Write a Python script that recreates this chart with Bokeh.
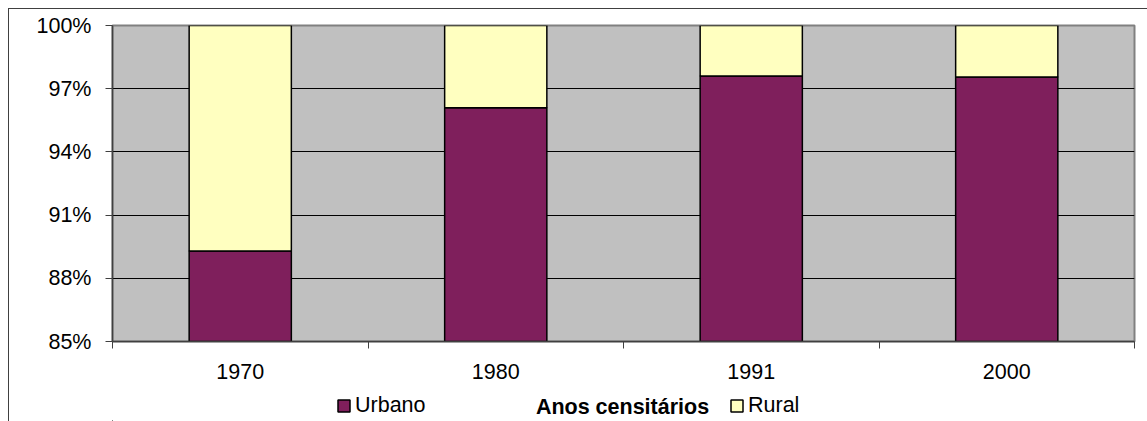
from bokeh.plotting import figure
from bokeh.layouts import column
from bokeh.models import (Range1d, FixedTicker, PrintfTickFormatter, Legend,
                          LegendItem, ColumnDataSource, Label)
from bokeh.embed import file_html
from bokeh.resources import INLINE

# ---- data ----
anos = ["1970", "1980", "1991", "2000"]
urbano = [89.3, 96.1, 97.6, 97.55]
rural = [round(100 - u, 2) for u in urbano]
y_ticks = [85, 88, 91, 94, 97, 100]
series = ["Urbano", "Rural"]
x_title = "Anos censitários"

FONT = "Liberation Sans"
FS = "21.5px"
PURPLE = "#7F1F5C"
YELLOW = "#FFFFC0"
W = 1139

x_pos = [i + 0.5 for i in range(len(anos))]
src = ColumnDataSource(dict(x=x_pos, Urbano=urbano, Rural=rural))

p = figure(width=W, height=382, output_backend="svg", toolbar_location=None,
           x_range=Range1d(0, len(anos)), y_range=Range1d(85, 100),
           min_border_left=103, min_border_right=14, min_border_top=16,
           min_border_bottom=50)

p.background_fill_color = "#C0C0C0"
p.border_fill_color = "white"
p.outline_line_color = "#808080"
p.outline_line_width = 2

rs = p.vbar_stack(series, x="x", width=0.4, source=src,
                  fill_color=[PURPLE, YELLOW], line_color="black", line_width=1.5)

# y axis
p.yaxis.ticker = FixedTicker(ticks=y_ticks)
p.yaxis.formatter = PrintfTickFormatter(format="%d%%")
p.yaxis.major_tick_out = 7
p.yaxis.major_tick_in = 0
p.yaxis.minor_tick_out = 0
p.yaxis.minor_tick_in = 0
p.yaxis.major_label_standoff = 14
p.yaxis.axis_line_color = "#404040"
p.yaxis.axis_line_width = 1.5
p.yaxis.major_tick_line_color = "#404040"
p.yaxis.major_label_text_font = FONT
p.yaxis.major_label_text_font_size = FS
p.yaxis.major_label_text_color = "black"

# x axis: labels at centres, ticks at category boundaries
p.xaxis.ticker = FixedTicker(ticks=x_pos, minor_ticks=list(range(len(anos) + 1)))
p.xaxis.major_label_overrides = {x: a for x, a in zip(x_pos, anos)}
p.xaxis.major_tick_out = 0
p.xaxis.major_tick_in = 0
p.xaxis.minor_tick_out = 7
p.xaxis.minor_tick_in = 0
p.xaxis.minor_tick_line_color = "#404040"
p.xaxis.axis_line_color = "#404040"
p.xaxis.axis_line_width = 1.5
p.xaxis.major_label_standoff = 15
p.xaxis.major_label_text_font = FONT
p.xaxis.major_label_text_font_size = FS
p.xaxis.major_label_text_color = "black"

p.xgrid.grid_line_color = None
p.ygrid.grid_line_color = "black"
p.ygrid.grid_line_width = 1
p.ygrid.ticker = FixedTicker(ticks=y_ticks)

# ---- legend row (separate strip under the chart; its frame is aligned with the chart's) ----
lf = figure(width=W, height=30, output_backend="svg", toolbar_location=None,
            x_range=Range1d(100, 101), y_range=Range1d(200, 201),
            x_axis_location=None, y_axis_location=None, min_border=0)
lf.outline_line_color = None
lf.background_fill_color = "white"
lf.border_fill_color = "white"
lf.grid.visible = False

# same stacked bars (kept out of view) so that the legend has glyphs to show
rl = lf.vbar_stack(series, x="x", width=0.4, source=src,
                   fill_color=[PURPLE, YELLOW], line_color="black", line_width=1.5)


def make_legend(label, r, loc):
    return Legend(items=[LegendItem(label=label, renderers=[r])], location=loc,
                  orientation="horizontal", glyph_width=15, glyph_height=15,
                  label_standoff=4, padding=0, margin=0, spacing=0,
                  border_line_color=None, background_fill_alpha=0,
                  label_text_font=FONT, label_text_font_size=FS,
                  label_text_color="black")


lf.add_layout(make_legend(series[0], rl[0], (224, 3)))
lf.add_layout(make_legend(series[1], rl[1], (617, 3)))
lf.add_layout(Label(x=510, y=15, x_units="screen", y_units="screen", text=x_title,
                    text_align="center", text_baseline="middle",
                    text_font=FONT, text_font_size=FS, text_font_style="bold",
                    text_color="black"))

layout = column(p, lf, spacing=0)
layout.styles = {"margin-left": "8px", "margin-top": "8px",
                 "border-left": "1.5px solid #404040",
                 "border-top": "1.5px solid #404040"}

open("out.html", "w").write(file_html(layout, INLINE))
